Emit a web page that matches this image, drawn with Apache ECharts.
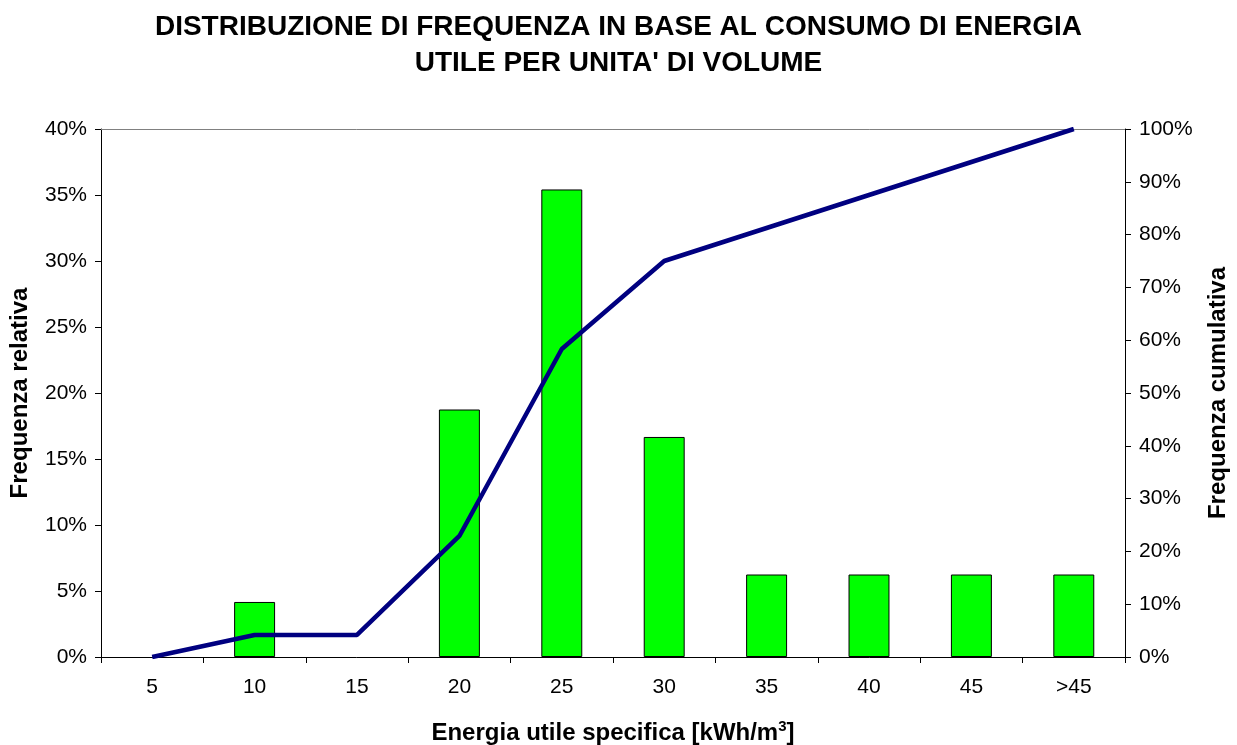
<!DOCTYPE html>
<html>
<head>
<meta charset="utf-8">
<script src="https://cdn.jsdelivr.net/npm/echarts@6/dist/echarts.min.js"></script>
<style>
  html, body { margin: 0; padding: 0; background: #fff; }
  #chart { width: 1237px; height: 745px; }
</style>
</head>
<body>
<div id="chart"></div>
<script>
const categories = ["5", "10", "15", "20", "25", "30", "35", "40", "45", ">45"];
// frequenza relativa (%)
const freqRelativa = ["-", 4.17, "-", 18.75, 35.42, 16.67, 6.25, 6.25, 6.25, 6.25];
// frequenza cumulativa (%)
const freqCumulativa = [0, 4.17, 4.17, 22.92, 58.33, 75, 81.25, 87.5, 93.75, 100];

const font = "Liberation Sans, Arial, sans-serif";
const chart = echarts.init(document.getElementById("chart"));

chart.setOption({
  animation: false,
  textStyle: { fontFamily: font },
  title: {
    text: "DISTRIBUZIONE DI FREQUENZA IN BASE AL CONSUMO DI ENERGIA\nUTILE PER UNITA' DI VOLUME",
    left: "center",
    top: 4,
    textStyle: {
      fontFamily: font,
      fontSize: 28,
      fontWeight: "bold",
      color: "#000",
      lineHeight: 36,
    },
  },
  grid: {
    left: 101,
    right: 112,
    top: 129,
    bottom: 88,
    containLabel: false,
    outerBoundsMode: "none",
  },
  xAxis: [
    {
      type: "category",
      data: categories,
      position: "bottom",
      axisLine: { show: true, lineStyle: { color: "#000", width: 1 } },
      axisTick: { show: true, length: 6, lineStyle: { color: "#000" } },
      axisLabel: { fontSize: 21, color: "#000", margin: 20 },
      name: "{a|Energia utile specifica [kWh/m}{s|3}{a|]}",
      nameLocation: "middle",
      nameGap: 62,
      nameTextStyle: {
        rich: {
          a: { fontFamily: font, fontSize: 24, fontWeight: "bold", color: "#000" },
          s: { fontFamily: font, fontSize: 15, fontWeight: "bold", color: "#000", padding: [0, 0, 14, 0] },
        },
      },
    },
    {
      type: "category",
      data: categories,
      position: "top",
      show: true,
      axisLine: { show: true, onZero: false, lineStyle: { color: "#808080", width: 1 } },
      axisTick: { show: false },
      axisLabel: { show: false },
    },
  ],
  yAxis: [
    {
      type: "value",
      min: 0,
      max: 40,
      interval: 5,
      axisLine: { show: true, lineStyle: { color: "#000" } },
      axisTick: { show: true, length: 6, lineStyle: { color: "#000" } },
      splitLine: { show: false },
      axisLabel: { fontSize: 21, color: "#000", formatter: "{value}%", margin: 14 },
      name: "Frequenza relativa",
      nameLocation: "middle",
      nameGap: 69,
      nameTextStyle: { fontSize: 24, fontWeight: "bold", color: "#000" },
    },
    {
      type: "value",
      min: 0,
      max: 100,
      interval: 10,
      position: "right",
      axisLine: { show: true, lineStyle: { color: "#000" } },
      axisTick: { show: true, length: 6, lineStyle: { color: "#000" } },
      splitLine: { show: false },
      axisLabel: { fontSize: 21, color: "#000", formatter: "{value}%", margin: 14 },
      name: "Frequenza cumulativa",
      nameLocation: "middle",
      nameGap: 81,
      nameRotate: 90,
      nameTextStyle: { fontSize: 24, fontWeight: "bold", color: "#000" },
    },
  ],
  series: [
    {
      name: "Frequenza relativa",
      type: "bar",
      xAxisIndex: 0,
      yAxisIndex: 0,
      data: freqRelativa,
      barWidth: "40%",
      itemStyle: { color: "#00ff00", borderColor: "#000", borderWidth: 1 },
    },
    {
      name: "Frequenza cumulativa",
      type: "line",
      xAxisIndex: 0,
      yAxisIndex: 1,
      data: freqCumulativa,
      symbol: "none",
      lineStyle: { color: "#000080", width: 4.5 },
    },
  ],
});
</script>
</body>
</html>
